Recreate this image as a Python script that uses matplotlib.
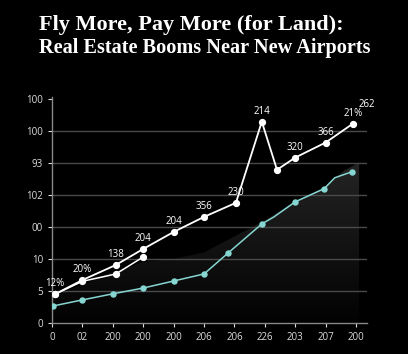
import matplotlib
matplotlib.use("Agg")
import matplotlib.pyplot as plt
import numpy as np
from matplotlib.patches import Polygon
from matplotlib.colors import LinearSegmentedColormap

# ---- data ----
x_ticks = [0, 1, 2, 3, 4, 5, 6, 7, 8, 9, 10]
x_ticklabels = ["0", "02", "200", "200", "200", "206", "206", "226", "203", "207", "200"]
y_ticks = [0, 1, 2, 3, 4, 5, 6, 7]
y_ticklabels = ["0", "5", "10", "00", "102", "93", "100", "100"]

main_x = [0.1, 1.0, 2.1, 3.0, 4.0, 5.0, 6.05, 6.9, 7.4, 8.0, 9.0, 9.9]
main_y = [0.9, 1.34, 1.81, 2.31, 2.84, 3.31, 3.75, 6.28, 4.78, 5.16, 5.63, 6.22]
main_labels = ["12%", "20%", "138", "204", "204", "356", "230", "214", "", "320", "366", "21%"]

branch_x = [0.1, 1.0, 2.1, 3.0]
branch_y = [0.9, 1.30, 1.53, 2.06]

teal_x = [0.03, 1, 2, 3, 4, 5, 5.8, 6.9, 7.3, 8, 8.95, 9.3, 9.87]
teal_y = [0.53, 0.72, 0.91, 1.09, 1.31, 1.53, 2.19, 3.09, 3.31, 3.78, 4.19, 4.53, 4.72]
teal_marked = [0, 1, 2, 3, 4, 5, 6, 7, 9, 10, 12]

shade_x = [0, 1, 2, 3, 4, 5, 6, 7, 8, 9, 9.6, 10.1]
shade_y = [0.84, 1.2, 1.6, 1.9, 2.0, 2.2, 2.7, 3.2, 3.8, 4.25, 4.75, 5.0]

extra_label = "262"

# ---- figure ----
plt.rcParams['font.family'] = ['Open Sans', 'DejaVu Sans']
fig = plt.figure(figsize=(4.08, 3.54), dpi=100, facecolor="black")
ax = fig.add_axes([0.1275, 0.0876, 0.772, 0.6384], facecolor="black")
ax.set_xlim(0, 10.36)
ax.set_ylim(0, 7.05)

# shaded gradient area
poly_pts = list(zip(shade_x, shade_y)) + [(shade_x[-1], 0), (shade_x[0], 0)]
poly = Polygon(poly_pts, closed=True, facecolor="none", edgecolor="none")
ax.add_patch(poly)
grad = np.linspace(0, 1, 256).reshape(-1, 1)
cmap = LinearSegmentedColormap.from_list("g", ["#020202", "#242424"])
im = ax.imshow(grad, extent=[0, 10.36, 0, 5.0], origin="lower", cmap=cmap,
               aspect="auto", zorder=0.5)
im.set_clip_path(poly)

# grid
for yv in y_ticks[1:-1]:
    ax.axhline(yv, color="#4a4a4a", lw=1.0, zorder=1)

ax.plot(teal_x, teal_y, color="#86d6d2", lw=1.1, marker="o", ms=3.6,
        markevery=teal_marked, zorder=3)
ax.plot(branch_x, branch_y, color="white", lw=1.1, marker="o", ms=4.2, zorder=4)
ax.plot(main_x, main_y, color="white", lw=1.3, marker="o", ms=4.2, zorder=5)

for xv, yv, lab in zip(main_x, main_y, main_labels):
    if lab:
        ax.annotate(lab, (xv, yv), xytext=(0, 3.5), textcoords="offset points",
                    ha="center", va="bottom", color="white", fontsize=7, zorder=6)
ax.annotate(extra_label, (main_x[-1], main_y[-1]), xytext=(10, 10),
            textcoords="offset points", ha="center", va="bottom",
            color="white", fontsize=7)

ax.set_xticks(x_ticks)
ax.set_xticklabels(x_ticklabels)
ax.set_yticks(y_ticks)
ax.set_yticklabels(y_ticklabels)
ax.tick_params(colors="#dddddd", labelsize=7, length=3, width=0.8)
for s in ["top", "right"]:
    ax.spines[s].set_visible(False)
for s in ["left", "bottom"]:
    ax.spines[s].set_color("#888888")
    ax.spines[s].set_linewidth(1.0)

fig.text(0.096, 0.929, "Fly More, Pay More (for Land):", color="white",
         fontsize=16, fontweight="bold", family="Liberation Serif", va="center")
fig.text(0.096, 0.864, "Real Estate Booms Near New Airports", color="white",
         fontsize=14.6, fontweight="bold", family="Liberation Serif", va="center")

fig.savefig("out.png", dpi=100, facecolor="black")
